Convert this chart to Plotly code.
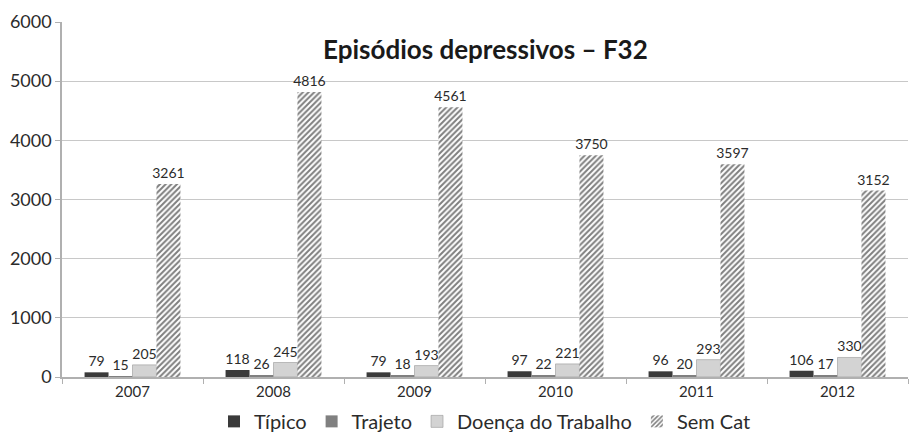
import plotly.graph_objects as go

years = ["2007", "2008", "2009", "2010", "2011", "2012"]
tipico = [79, 118, 79, 97, 96, 106]
trajeto = [15, 26, 18, 22, 20, 17]
doenca = [205, 245, 193, 221, 293, 330]
sem_cat = [3261, 4816, 4561, 3750, 3597, 3152]

FONT = "Lato"
TXT = "#2b2b2b"

fig = go.Figure()
fig.add_trace(go.Bar(name="Típico", x=years, y=tipico, text=tipico,
                     marker=dict(color="#3a3a3a", line=dict(width=0))))
fig.add_trace(go.Bar(name="Trajeto", x=years, y=trajeto, text=trajeto,
                     marker=dict(color="#808080", line=dict(width=0))))
fig.add_trace(go.Bar(name="Doença do Trabalho", x=years, y=doenca, text=doenca,
                     marker=dict(color="#d3d3d3", line=dict(width=0.6, color="#999999"))))
fig.add_trace(go.Bar(name="Sem Cat", x=years, y=sem_cat, text=sem_cat,
                     marker=dict(color="white", line=dict(width=0),
                                 pattern=dict(shape="/", fgcolor="#000000", bgcolor="white",
                                              size=4, solidity=0.5))))

fig.update_traces(textposition="outside", cliponaxis=False, constraintext="none",
                  textfont=dict(family=FONT, size=14, color=TXT))

fig.update_layout(
    width=910, height=437,
    margin=dict(l=62, r=2, t=22, b=60, autoexpand=False),
    paper_bgcolor="white", plot_bgcolor="white",
    barmode="group", bargap=0.32, bargroupgap=0,
    showlegend=True,
    legend=dict(orientation="h", x=0.5, xanchor="center", y=-0.125, yanchor="middle",
                font=dict(family=FONT, size=20, color=TXT), itemwidth=30,
                traceorder="normal"),
    font=dict(family=FONT, color=TXT),
)
fig.add_annotation(text="<b>Episódios depressivos – F32</b>", xref="paper", yref="paper",
                   x=0.5, y=0.925, xanchor="center", yanchor="middle", showarrow=False,
                   font=dict(family=FONT, size=26, color="#1a1a1a"))

fig.update_yaxes(range=[0, 6000], dtick=1000, showgrid=True, gridcolor="#c8c8c8", gridwidth=1,
                 showline=True, linecolor="#b0b0b0", linewidth=1.5,
                 ticks="outside", ticklen=5, tickcolor="#b0b0b0",
                 tickfont=dict(family=FONT, size=18, color=TXT), zeroline=False)
fig.update_xaxes(showline=True, linecolor="#b0b0b0", linewidth=1.5,
                 ticks="outside", tickson="boundaries", ticklen=5, tickcolor="#b0b0b0",
                 tickfont=dict(family=FONT, size=15, color=TXT))

fig.write_html("out.html", config={"displayModeBar": False},
               post_script="document.body.style.margin='0';document.body.style.overflow='hidden';")
